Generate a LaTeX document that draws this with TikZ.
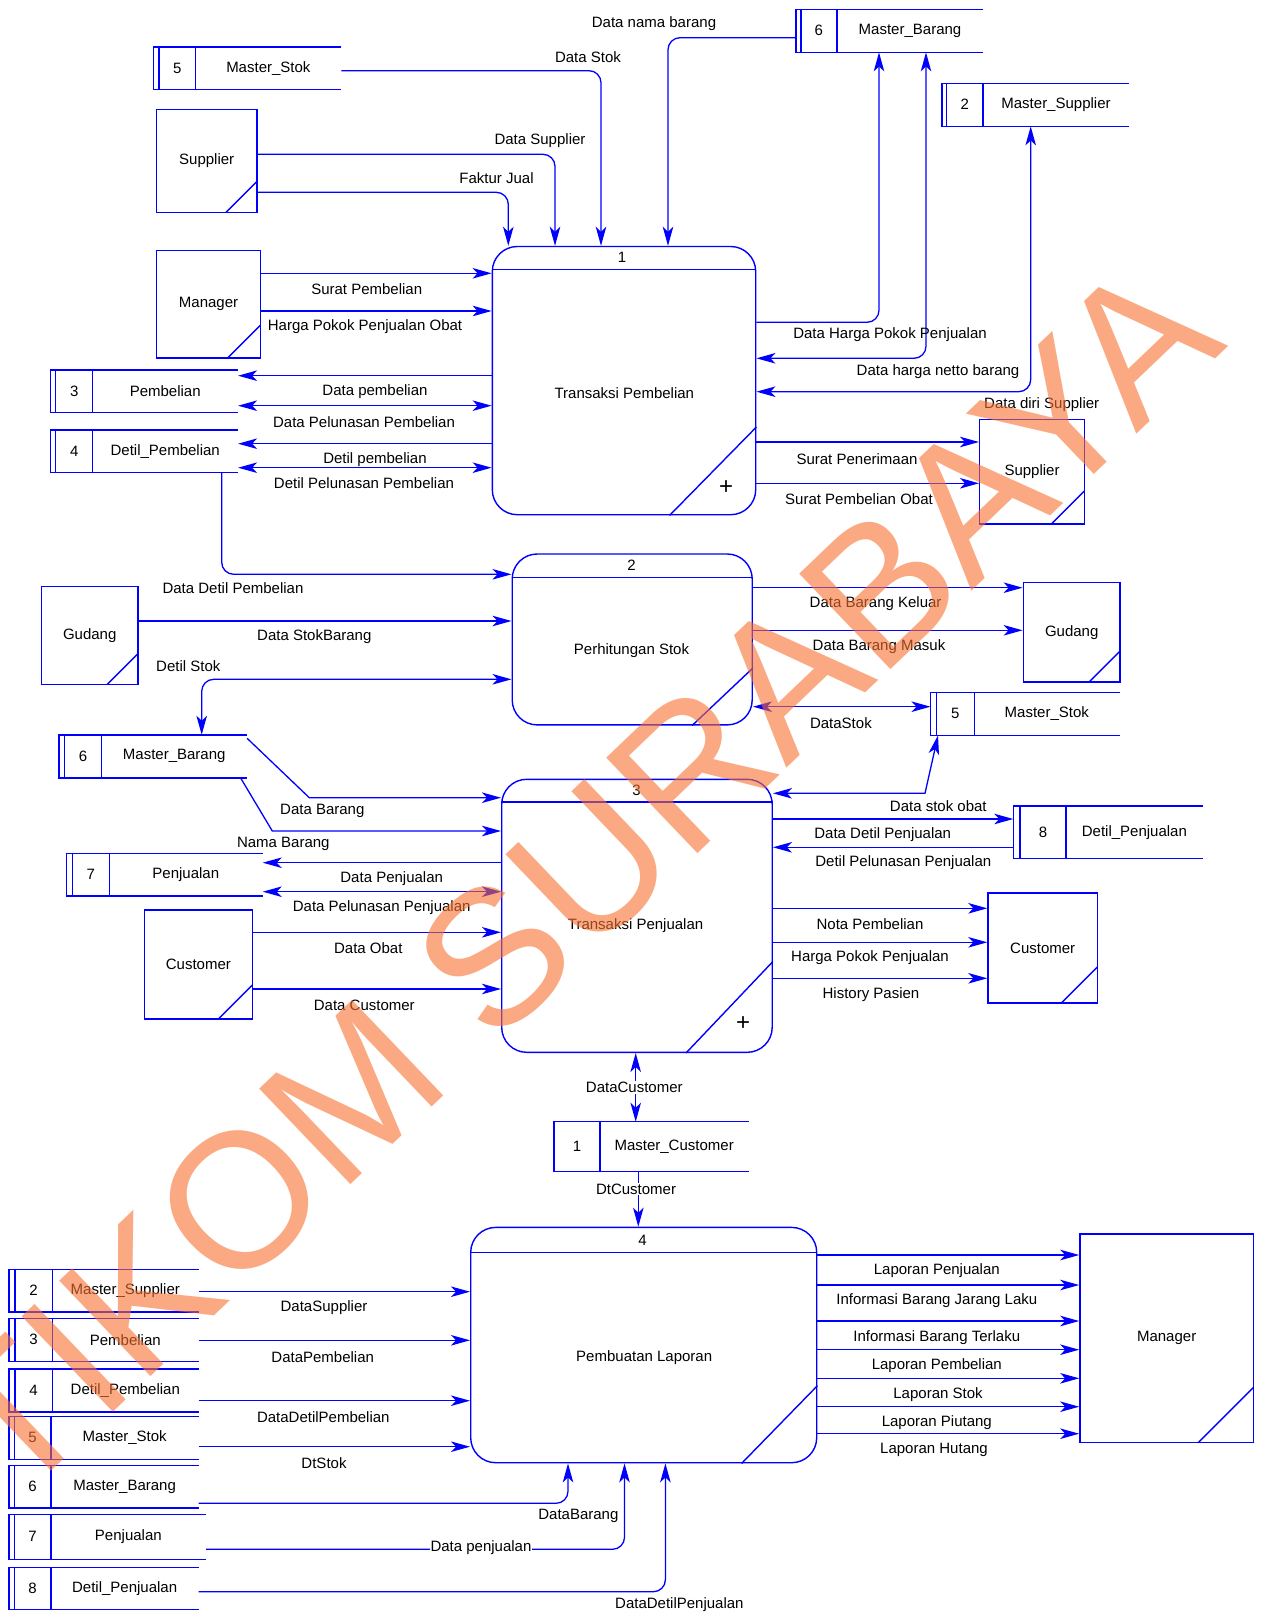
\documentclass[tikz,border=0pt]{standalone}
\usepackage{fontspec}
\setmainfont{Liberation Sans}
\usetikzlibrary{arrows.meta,calc}
\definecolor{dfdblue}{RGB}{0,0,255}
\definecolor{wmorange}{RGB}{247,113,47}
\newcommand\lbl{\fontsize{15}{18}\selectfont}

\tikzset{
  shapeline/.style={draw=dfdblue, line width=1.4pt},
  proc/.style={shapeline, rounded corners=25pt, inner sep=0pt, anchor=north west},
  entity/.style={shapeline, inner sep=0pt, anchor=north west,
    path picture={\draw[dfdblue, line width=1.4pt]
      (path picture bounding box.south east) ++(-#1,0) -- ++(#1,-#1);}},
  storearea/.style={inner sep=0pt, draw=none},
  flowbase/.style={draw=dfdblue, line width=1.3pt},
  flow/.style={flowbase, -{Stealth[length=19pt,width=10.5pt,inset=5pt]}},
  biflow/.style={flowbase, {Stealth[length=19pt,width=10.5pt,inset=5pt]}-{Stealth[length=19pt,width=10.5pt,inset=5pt]}},
  elbow/.style={rounded corners=12pt},
  lab/.style={inner sep=1pt},
  wlab/.style={inner sep=1pt, fill=white},
  plusmark/.style={inner sep=0pt, font=\fontsize{24}{24}\selectfont}
}

% data store: name, left, top, right, bottom, gap of second left line, divider x, number, title
\newcommand\DataStore[9]{%
  \node[storearea, anchor=north west, minimum width={#4-#2}, minimum height={#5-#3}] (#1) at (#2,#3) {};
  \draw[shapeline] (#1.north east) -- (#1.north west) -- (#1.south west) -- (#1.south east);
  \draw[shapeline] ($(#1.north west)+(#6,0)$) -- ($(#1.south west)+(#6,0)$);
  \draw[shapeline] (#1.north -| #7,0) -- (#1.south -| #7,0);
  \node (#1-num) at ({(#2+#6+#7)/2},{(#3+#5)/2}) {#8};
  \node (#1-name) at ({(#7+#4)/2},{(#3+#5)/2}) {#9};
}

\begin{document}
\begin{tikzpicture}[x=1pt,y=-1pt, every node/.style={font=\lbl}]
\fill[white] (0,0) rectangle (1262,1613);
\useasboundingbox (0,0) rectangle (1262,1613);

% ---------- processes ----------
\node[proc, minimum width=263.4pt, minimum height=268.2pt] (p1) at (491.6,245.8) {};
\draw[shapeline] (p1.west |- 0,269.5) -- (p1.east |- 0,269.5);
\draw[shapeline] (p1.south -| 669.6,0) -- (p1.east |- 0,427);
\node (p1num) at (622,257.5) {1};
\node (p1name) at (624.3,392.9) {Transaksi Pembelian};
\node[plusmark] (p1plus) at (726,487.5) {+};

\node[proc, minimum width=240pt, minimum height=170.9pt] (p2) at (511.5,553.3) {};
\draw[shapeline] (p2.west |- 0,577.5) -- (p2.east |- 0,577.5);
\draw[shapeline] (p2.south -| 692,0) -- (p2.east |- 0,668);
\node (p2num) at (631.5,565.5) {2};
\node (p2name) at (631.5,651) {Perhitungan Stok};

\node[proc, minimum width=270.5pt, minimum height=273pt] (p3) at (501,778.6) {};
\draw[shapeline] (p3.west |- 0,802) -- (p3.east |- 0,802);
\draw[shapeline] (p3.south -| 686,0) -- (p3.east |- 0,961.5);
\node (p3num) at (636.6,790) {3};
\node (p3name) at (635.6,925.7) {Transaksi Penjualan};
\node[plusmark] (p3plus) at (743,1024) {+};

\node[proc, minimum width=346pt, minimum height=235.3pt] (p4) at (470,1226.7) {};
\draw[shapeline] (p4.west |- 0,1252.3) -- (p4.east |- 0,1252.3);
\draw[shapeline] (p4.south -| 741.6,0) -- (p4.east |- 0,1385.7);
\node (p4num) at (642.6,1240) {4};
\node (p4name) at (644.2,1357.7) {Pembuatan Laporan};

% ---------- external entities ----------
\node[entity=31, minimum width=100.6pt, minimum height=103pt] (supA) at (155.7,108.7) {Supplier};
\node[entity=33, minimum width=104.3pt, minimum height=107.3pt] (mgrA) at (155.7,250) {Manager};
\node[entity=33, minimum width=104.7pt, minimum height=104.3pt] (supB) at (979,419) {Supplier};
\node[entity=31, minimum width=96.6pt, minimum height=98.3pt] (gudA) at (40.7,585.7) {Gudang};
\node[entity=31, minimum width=96.8pt, minimum height=99.3pt] (gudB) at (1022.6,582) {Gudang};
\node[entity=34, minimum width=108pt, minimum height=109pt] (custA) at (143.7,909.3) {Customer};
\node[entity=36, minimum width=109.4pt, minimum height=110pt] (custB) at (987.3,892.3) {Customer};
\node[entity=55, minimum width=173.5pt, minimum height=208.4pt] (mgrB) at (1079.2,1233.3) {Manager};

% ---------- data stores ----------
\DataStore{st5a}{153.3}{47}{341}{89.3}{5.7}{195.7}{5}{Master\_Stok}
\DataStore{st6a}{795.8}{9.5}{983}{52}{5}{837}{6}{Master\_Barang}
\DataStore{st2a}{942}{83.5}{1129}{126}{4.5}{983}{2}{Master\_Supplier}
\DataStore{st3a}{50.7}{370}{237.7}{412.3}{5}{92.7}{3}{Pembelian}
\DataStore{st4a}{50.7}{430}{237.7}{472.3}{5}{92.7}{4}{Detil\_Pembelian}
\DataStore{st6b}{59}{734.8}{246.7}{777.7}{5.3}{101.7}{6}{Master\_Barang}
\DataStore{st5b}{930.5}{692.3}{1119.4}{735}{6}{974.2}{5}{Master\_Stok}
\DataStore{st7a}{66.3}{853.7}{262.3}{895.7}{6}{109.3}{7}{Penjualan}
\DataStore{st8a}{1013.3}{806}{1202.7}{858.3}{6.7}{1066}{8}{Detil\_Penjualan}
\DataStore{st1}{554}{1121.7}{748.3}{1171}{0}{600}{1}{Master\_Customer}
\DataStore{b2}{9}{1269.3}{198.3}{1311.7}{6}{52.3}{2}{Master\_Supplier}
\DataStore{b3}{9}{1318.3}{198.3}{1361}{6}{52.3}{3}{Pembelian}
\DataStore{b4}{9}{1369}{198.3}{1411.7}{6}{52.3}{4}{Detil\_Pembelian}
\DataStore{b5}{9}{1416.7}{198.3}{1459}{5.3}{51}{5}{Master\_Stok}
\DataStore{b6}{9}{1465.7}{198.3}{1507.7}{5.3}{51}{6}{Master\_Barang}
\DataStore{b7}{9}{1514.3}{205.7}{1559}{5.3}{51}{7}{Penjualan}
\DataStore{b8}{9}{1567.3}{198.3}{1609.3}{5.3}{51}{8}{Detil\_Penjualan}

% ---------- flows of process 1 ----------
\draw[flow, elbow] (st5a.east |- 0,70.7) -| (p1.north -| 601,0);
\draw[flow, elbow] (supA.east |- 0,154.3) -| (p1.north -| 555,0);
\draw[flow, elbow] (supA.east |- 0,192.3) -| (p1.north -| 508.3,0);
\draw[flow, elbow] (st6a.west |- 0,37.7) -| (p1.north -| 668,0);
\draw[flow] (mgrA.east |- 0,273.3) -- (p1.west |- 0,273.3);
\draw[flow] (mgrA.east |- 0,311) -- (p1.west |- 0,311);
\draw[flow] (p1.west |- 0,375.7) -- (st3a.east |- 0,375.7);
\draw[biflow] (st3a.east |- 0,405.7) -- (p1.west |- 0,405.7);
\draw[flow] (p1.west |- 0,443.7) -- (st4a.east |- 0,443.7);
\draw[biflow] (st4a.east |- 0,467.7) -- (p1.west |- 0,467.7);
\draw[flow, elbow] (p1.east |- 0,322.3) -| (st6a.south -| 879,0);
\draw[biflow, elbow] (p1.east |- 0,358.3) -| (st6a.south -| 926,0);
\draw[biflow, elbow] (p1.east |- 0,391.7) -| (st2a.south -| 1030.7,0);
\draw[flow] (p1.east |- 0,442) -- (supB.west |- 0,442);
\draw[flow] (p1.east |- 0,483.3) -- (supB.west |- 0,483.3);

\node[lab] (lDataNama) at (654,23.5) {Data nama barang};
\node[lab] (lDataStok) at (588,56.7) {Data Stok};
\node[lab] (lDataSup) at (540,141) {Data Supplier};
\node[lab] (lFaktur) at (496.5,178.3) {Faktur Jual};
\node[lab] (lSuratPemb) at (366.7,289) {Surat Pembelian};
\node[lab] (lHargaObat) at (365,326.7) {Harga Pokok Penjualan Obat};
\node[lab] (lDataPemb) at (375,392) {Data pembelian};
\node[lab] (lDataPel) at (364,421.7) {Data Pelunasan Pembelian};
\node[lab] (lDetilPemb) at (375,460) {Detil pembelian};
\node[lab] (lDetilPel) at (364,483.3) {Detil Pelunasan Pembelian};
\node[lab] (lHPP) at (890,335) {Data Harga Pokok Penjualan};
\node[lab] (lNetto) at (938,371.7) {Data harga netto barang};
\node[lab] (lDiri) at (1041.7,404.3) {Data diri Supplier};
\node[lab] (lTerima) at (857,458.7) {Surat Penerimaan};
\node[lab] (lSPO) at (859,499.3) {Surat Pembelian Obat};

% ---------- flows of process 2 ----------
\draw[flow, elbow] (st4a.south -| 221.7,0) |- (p2.west |- 0,574.3);
\draw[flow] (gudA.east |- 0,621) -- (p2.west |- 0,621);
\draw[biflow, elbow] (p2.west |- 0,679.3) -| (st6b.north -| 201.7,0);
\draw[flow] (p2.east |- 0,587.7) -- (gudB.west |- 0,587.7);
\draw[flow] (p2.east |- 0,630.3) -- (gudB.west |- 0,630.3);
\draw[biflow] (p2.east |- 0,706.7) -- (st5b.west |- 0,706.7);

\node[lab] (lDetilPembelian) at (233,587.7) {Data Detil Pembelian};
\node[lab] (lStokBarang) at (314.3,636.7) {Data StokBarang};
\node[lab] (lDetilStok) at (188.3,665.7) {Detil Stok};
\node[lab] (lKeluar) at (875.6,603.3) {Data Barang Keluar};
\node[lab] (lMasuk) at (879,646.7) {Data Barang Masuk};
\node[lab] (lDataStok2) at (840.9,722.7) {DataStok};

% ---------- flows of process 3 ----------
\draw[flow] (st6b.east |- 0,738.3) -- (309.3,797.7) -- (p3.west |- 0,797.7);
\draw[flow] (st6b.south -| 240.7,0) -- (272.3,831) -- (p3.west |- 0,831);
\draw[flow] (p3.west |- 0,862.7) -- (st7a.east |- 0,862.7);
\draw[biflow] (st7a.east |- 0,891.7) -- (p3.west |- 0,891.7);
\draw[flow] (custA.east |- 0,932.3) -- (p3.west |- 0,932.3);
\draw[flow] (custA.east |- 0,989) -- (p3.west |- 0,989);
\draw[biflow] (st5b.south -| 938,0) -- (925,793.3) -- (p3.east |- 0,793.3);
\draw[flow] (p3.east |- 0,819) -- (st8a.west |- 0,819);
\draw[flow] (st8a.west |- 0,847.3) -- (p3.east |- 0,847.3);
\draw[flow] (p3.east |- 0,908.3) -- (custB.west |- 0,908.3);
\draw[flow] (p3.east |- 0,942.3) -- (custB.west |- 0,942.3);
\draw[flow] (p3.east |- 0,978.3) -- (custB.west |- 0,978.3);
\draw[biflow] (p3.south -| 635.7,0) -- (st1.north -| 635.7,0);
\draw[flow] (st1.south -| 638.3,0) -- (p4.north -| 638.3,0);

\node[lab] (lDataBarang) at (322.3,811) {Data Barang};
\node[lab] (lNamaBarang) at (283.3,844) {Nama Barang};
\node[lab] (lDataPenj) at (391.7,878.7) {Data Penjualan};
\node[lab] (lPelPenj) at (381.7,907.7) {Data Pelunasan Penjualan};
\node[lab] (lObat) at (368.3,948.3) {Data Obat};
\node[lab] (lCust) at (364.3,1005.3) {Data Customer};
\node[lab] (lStokObat) at (938.3,805.7) {Data stok obat};
\node[lab] (lDetilPenj) at (882.7,834.3) {Data Detil Penjualan};
\node[lab] (lDetilPelPenj) at (903.3,862.7) {Detil Pelunasan Penjualan};
\node[lab] (lNota) at (870,924.3) {Nota Pembelian};
\node[lab] (lHPPenj) at (870,957.7) {Harga Pokok Penjualan};
\node[lab] (lHistory) at (871,994.3) {History Pasien};
\node[wlab] (lDataCust) at (634.3,1087.7) {DataCustomer};
\node[wlab] (lDtCust) at (636,1189) {DtCustomer};

% ---------- flows of process 4 ----------
\draw[flow] (b2.east |- 0,1291.7) -- (p4.west |- 0,1291.7);
\draw[flow] (b3.east |- 0,1340.3) -- (p4.west |- 0,1340.3);
\draw[flow] (b4.east |- 0,1400.7) -- (p4.west |- 0,1400.7);
\draw[flow] (b5.east |- 0,1446.7) -- (p4.west |- 0,1446.7);
\draw[flow, elbow] (b6.east |- 0,1503.3) -| (p4.south -| 568,0);
\draw[flow, elbow] (b7.east |- 0,1549.3) -| (p4.south -| 624.5,0);
\draw[flow, elbow] (b8.east |- 0,1591.7) -| (p4.south -| 665.4,0);
\foreach \yy in {1255,1285,1321,1349.7,1378.3,1406.7,1433.7}
  \draw[flow] (p4.east |- 0,\yy) -- (mgrB.west |- 0,\yy);

\node[lab] (lDSup) at (324,1307.7) {DataSupplier};
\node[lab] (lDPemb) at (322.7,1356.7) {DataPembelian};
\node[lab] (lDDetPemb) at (323.3,1416.7) {DataDetilPembelian};
\node[lab] (lDtStok) at (324,1462.7) {DtStok};
\node[lab] (lDBarang) at (578.4,1516) {DataBarang};
\node[wlab] (lDPenj) at (481,1547.5) {Data penjualan};
\node[lab] (lDDetPenj) at (679.4,1605) {DataDetilPenjualan};
\node[lab] (lLapPenj) at (936.8,1270.7) {Laporan Penjualan};
\node[lab] (lJarang) at (936.8,1300.7) {Informasi Barang Jarang Laku};
\node[lab] (lTerlaku) at (936.8,1337.7) {Informasi Barang Terlaku};
\node[lab] (lLapPemb) at (936.8,1365.7) {Laporan Pembelian};
\node[lab] (lLapStok) at (938,1395) {Laporan Stok};
\node[lab] (lPiutang) at (936.8,1422.7) {Laporan Piutang};
\node[lab] (lHutang) at (934,1450) {Laporan Hutang};

% ---------- watermark ----------
\node[rotate=43.7, anchor=base west, inner sep=0pt, text=wmorange, text opacity=0.6,
      font=\fontsize{192}{192}\selectfont] (watermark) at (-77,1594) {STIKOM SURABAYA};
\end{tikzpicture}
\end{document}
